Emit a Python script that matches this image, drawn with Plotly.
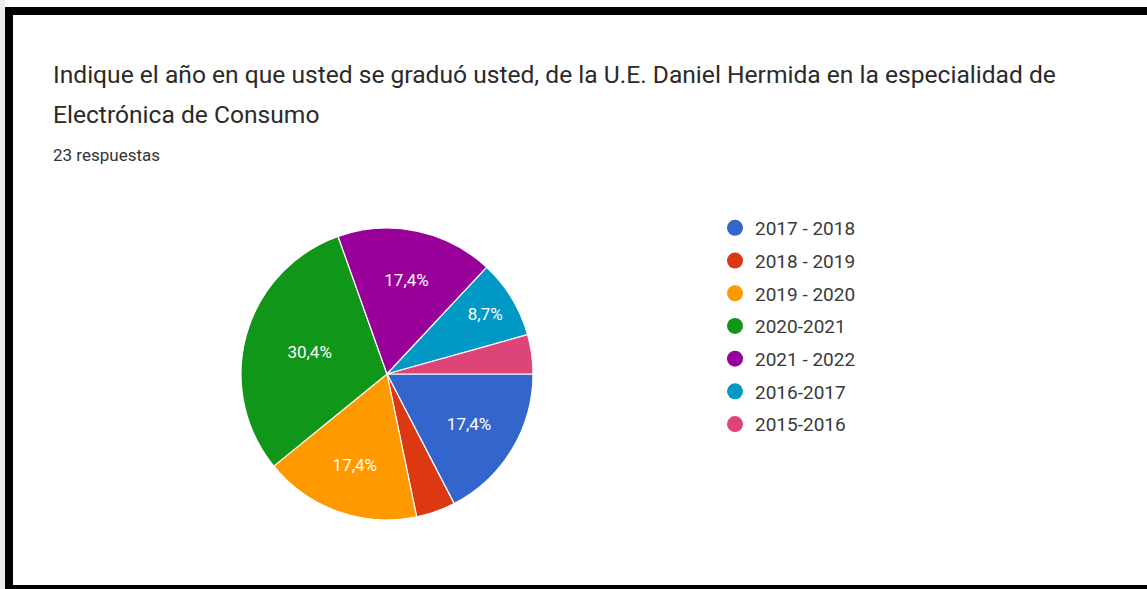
import plotly.graph_objects as go

labels = ["2017 - 2018", "2018 - 2019", "2019 - 2020", "2020-2021", "2021 - 2022", "2016-2017", "2015-2016"]
counts = [4, 1, 4, 7, 4, 2, 1]
colors = ["#3366CC", "#DC3912", "#FF9900", "#109618", "#990099", "#0099C6", "#DD4477"]
title_line1 = "Indique el año en que usted se graduó usted, de la U.E. Daniel Hermida en la especialidad de"
title_line2 = "Electrónica de Consumo"
subtitle = "23 respuestas"

W, H = 1147, 589
total = sum(counts)
texts = [(f"{c / total * 100:.1f}%".replace(".", ",") if c / total > 0.05 else "") for c in counts]

FONT = "Roboto, Arial, sans-serif"

fig = go.Figure()
fig.add_trace(go.Pie(
    labels=labels, values=counts, text=texts, textinfo="text",
    textposition="inside", insidetextorientation="horizontal",
    sort=False, direction="clockwise", rotation=90,
    marker=dict(colors=colors, line=dict(color="white", width=1.2)),
    textfont=dict(family=FONT, size=17, color="white"),
    showlegend=False, hoverinfo="label+value+percent",
    domain=dict(x=[(387 - 146) / W, (387 + 146) / W], y=[(H - 374 - 146) / H, (H - 374 + 146) / H]),
))
for i, (lab, col) in enumerate(zip(labels, colors)):
    fig.add_trace(go.Scatter(
        x=[None], y=[None], mode="markers", name=lab, legendgroup=f"g{i}",
        marker=dict(color=col, size=16, symbol="circle"), showlegend=True,
    ))

def px_x(v):
    return v / W

def px_y(v):
    return 1 - v / H

shapes = [
    dict(type="rect", xref="paper", yref="paper", x0=0, x1=px_x(5), y0=0, y1=1,
         fillcolor="#ececec", line=dict(width=0), layer="above"),
    dict(type="rect", xref="paper", yref="paper", x0=px_x(5), x1=px_x(13), y0=0, y1=px_y(7),
         fillcolor="black", line=dict(width=0), layer="above"),
    dict(type="rect", xref="paper", yref="paper", x0=px_x(5), x1=1, y0=px_y(15), y1=px_y(7),
         fillcolor="black", line=dict(width=0), layer="above"),
    dict(type="rect", xref="paper", yref="paper", x0=px_x(5), x1=1, y0=0, y1=px_y(585),
         fillcolor="black", line=dict(width=0), layer="above"),
]

annotations = [
    dict(text=title_line1, x=px_x(51), y=px_y(75), xref="paper", yref="paper", xanchor="left", yanchor="middle",
         showarrow=False, font=dict(family=FONT, size=24.6, color="#2a2a2a")),
    dict(text=title_line2, x=px_x(51), y=px_y(115), xref="paper", yref="paper", xanchor="left", yanchor="middle",
         showarrow=False, font=dict(family=FONT, size=24.6, color="#2a2a2a")),
    dict(text=subtitle, x=px_x(51), y=px_y(155), xref="paper", yref="paper", xanchor="left", yanchor="middle",
         showarrow=False, font=dict(family=FONT, size=17, color="#333333")),
]

fig.update_layout(
    width=W, height=H, margin=dict(l=0, r=0, t=0, b=0),
    paper_bgcolor="white", plot_bgcolor="white",
    xaxis=dict(visible=False), yaxis=dict(visible=False),
    shapes=shapes, annotations=annotations,
    legend=dict(x=px_x(715), y=px_y(209), xanchor="left", yanchor="top",
                font=dict(family=FONT, size=19, color="#3a3a3a"),
                tracegroupgap=5, bgcolor="rgba(0,0,0,0)"),
)
fig.write_html("out.html", config={"displayModeBar": False},
               post_script="document.body.style.margin='0';document.body.style.overflow='hidden';")
